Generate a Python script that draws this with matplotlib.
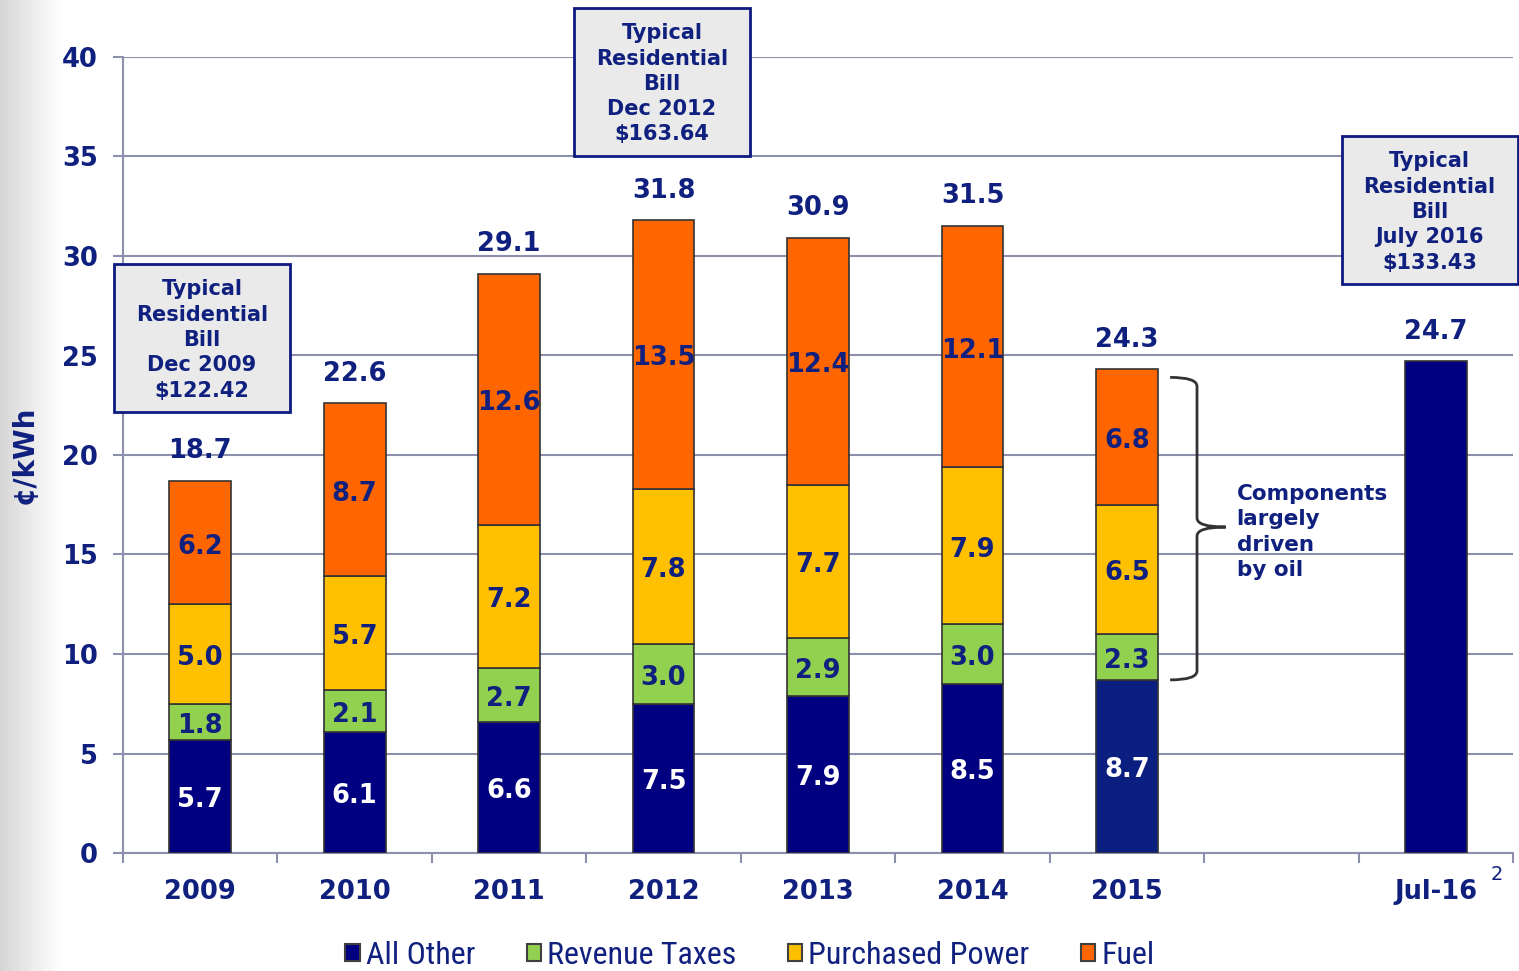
import numpy as np
import matplotlib
matplotlib.use("Agg")
import matplotlib.pyplot as plt
from matplotlib.patches import Rectangle, PathPatch
from matplotlib.path import Path
from matplotlib import font_manager

# ---------------- data ----------------
categories = ["2009", "2010", "2011", "2012", "2013", "2014", "2015", "Jul-16"]
cat_pos = [0, 1, 2, 3, 4, 5, 6, 8]
all_other = [5.7, 6.1, 6.6, 7.5, 7.9, 8.5, 8.7, 24.7]
revenue_taxes = [1.8, 2.1, 2.7, 3.0, 2.9, 3.0, 2.3, 0.0]
purchased_power = [5.0, 5.7, 7.2, 7.8, 7.7, 7.9, 6.5, 0.0]
fuel = [6.2, 8.7, 12.6, 13.5, 12.4, 12.1, 6.8, 0.0]
totals = [18.7, 22.6, 29.1, 31.8, 30.9, 31.5, 24.3, 24.7]
series_names = ["All Other", "Revenue Taxes", "Purchased Power", "Fuel"]
bill_texts = ["Typical\nResidential\nBill\nDec 2009\n$122.42",
              "Typical\nResidential\nBill\nDec 2012\n$163.64",
              "Typical\nResidential\nBill\nJuly 2016\n$133.43"]

# ---------------- style ----------------
plt.rcParams["font.family"] = "DejaVu Sans"
NAVY_TXT = "#10207F"
GRID = "#8C8FAE"
C_OTHER = "#000080"
C_TAX = "#92D050"
C_PP = "#FFC000"
C_FUEL = "#FF6600"
EDGE = "#333333"

# condensed font for legend if available
names = {f.name for f in font_manager.fontManager.ttflist}
legend_family = None
for cand in ["Liberation Sans Narrow", "Roboto Condensed", "Open Sans Condensed", "DejaVu Sans"]:
    if cand in names:
        legend_family = cand
        break
legend_stretch = "normal" if legend_family != "DejaVu Sans" else "condensed"

fig = plt.figure(figsize=(15.19, 9.71), dpi=100)
fig.patch.set_facecolor("white")

# left grey gradient
gax = fig.add_axes([0, 0, 60 / 1519, 1], zorder=-5)
grad = np.linspace(0, 1, 200)[None, :]
gax.imshow(grad, aspect="auto", cmap=matplotlib.colors.LinearSegmentedColormap.from_list(
    "g", ["#d6d6d6", "#ebebeb", "#ffffff"]), extent=[0, 1, 0, 1])
gax.axis("off")

ax = fig.add_axes([123 / 1519, 1 - 853 / 971, (1513 - 123) / 1519, (853 - 57) / 971])
ax.set_facecolor("none")

x = np.array(cat_pos, dtype=float)
w = 0.40
other_colors = [C_OTHER] * 6 + ["#0A1F80", C_OTHER]
ax.bar(x, all_other, w, color=other_colors, edgecolor=EDGE, linewidth=1.2, zorder=3)
b1 = np.array(all_other)
ax.bar(x[:7], revenue_taxes[:7], w, bottom=b1[:7], color=C_TAX, edgecolor=EDGE, linewidth=1.2, zorder=3)
b2 = b1 + np.array(revenue_taxes)
ax.bar(x[:7], purchased_power[:7], w, bottom=b2[:7], color=C_PP, edgecolor=EDGE, linewidth=1.2, zorder=3)
b3 = b2 + np.array(purchased_power)
ax.bar(x[:7], fuel[:7], w, bottom=b3[:7], color=C_FUEL, edgecolor=EDGE, linewidth=1.2, zorder=3)

lab_fs = 18.5
dy = 0.2
for i in range(7):
    ax.text(x[i], all_other[i] / 2 - dy, f"{all_other[i]:.1f}", ha="center", va="center",
            color="white", fontsize=lab_fs, fontweight="bold", zorder=5)
    ax.text(x[i], b1[i] + revenue_taxes[i] / 2 - dy, f"{revenue_taxes[i]:.1f}", ha="center", va="center",
            color=NAVY_TXT, fontsize=lab_fs, fontweight="bold", zorder=5)
    ax.text(x[i], b2[i] + purchased_power[i] / 2 - dy, f"{purchased_power[i]:.1f}", ha="center", va="center",
            color=NAVY_TXT, fontsize=lab_fs, fontweight="bold", zorder=5)
    ax.text(x[i], b3[i] + fuel[i] / 2 - dy, f"{fuel[i]:.1f}", ha="center", va="center",
            color=NAVY_TXT, fontsize=lab_fs, fontweight="bold", zorder=5)
for i in range(8):
    ax.annotate(f"{totals[i]:.1f}", (x[i], totals[i]), xytext=(0, 12), textcoords="offset points",
                ha="center", va="bottom", color=NAVY_TXT, fontsize=lab_fs, fontweight="bold", zorder=5)

# axes
ax.set_xlim(-0.5, 8.5)
ax.set_ylim(0, 40)
ax.set_yticks(np.arange(0, 41, 5))
ax.yaxis.grid(True, color=GRID, linewidth=1.5, zorder=0)
ax.set_axisbelow(True)
for s in ["top", "right"]:
    ax.spines[s].set_visible(False)
for s in ["left", "bottom"]:
    ax.spines[s].set_color(GRID)
    ax.spines[s].set_linewidth(1.5)
ax.tick_params(axis="y", colors=GRID, length=7, width=1.5, labelcolor=NAVY_TXT, labelsize=18.5, pad=11)
ax.set_xticks(x)
ax.set_xticklabels(categories)
ax.tick_params(axis="x", length=0, labelcolor=NAVY_TXT, labelsize=18.5, pad=19)
ax.set_xticks(np.arange(-0.5, 8.6, 1.0), minor=True)
ax.tick_params(axis="x", which="minor", length=7, width=1.5, color=GRID)
for t in ax.get_xticklabels() + ax.get_yticklabels():
    t.set_fontweight("bold")

# y label
fig.text(25 / 1519, 1 - 455 / 971, "¢/kWh", rotation=90, ha="center", va="center",
         color=NAVY_TXT, fontsize=20, fontweight="bold")

# superscript
fig.text(1497 / 1519, 1 - 874 / 971, "2", ha="center", va="center", color=NAVY_TXT, fontsize=14)

# bill boxes
boxes = [(-0.558, 22.16, 1.14, 7.44), (2.42, 35.03, 1.14, 7.44), (7.39, 28.59, 1.14, 7.44)]
for (bx, by, bw, bh), txt in zip(boxes, bill_texts):
    r = Rectangle((bx, by), bw, bh, facecolor="#EAEAEA", edgecolor="#0D1A80", linewidth=2,
                  clip_on=False, zorder=6)
    ax.add_patch(r)
    ax.text(bx + bw / 2, by + bh / 2 - 0.1, txt, ha="center", va="center", color=NAVY_TXT,
            fontsize=15, fontweight="bold", linespacing=1.33, zorder=7, clip_on=False)

# brace
xl, xm, xt = 6.28, 6.454, 6.64
yt, ymid, yb = 23.9, 16.38, 8.7
d = 0.45
verts = [(xl, yt), (xm, yt), (xm, yt - d), (xm, ymid + d), (xm, ymid), (xt, ymid),
         (xt, ymid), (xm, ymid), (xm, ymid - d), (xm, yb + d), (xm, yb), (xl, yb)]
codes = [Path.MOVETO, Path.CURVE3, Path.CURVE3, Path.LINETO, Path.CURVE3, Path.CURVE3,
         Path.MOVETO, Path.CURVE3, Path.CURVE3, Path.LINETO, Path.CURVE3, Path.CURVE3]
ax.add_patch(PathPatch(Path(verts, codes), facecolor="none", edgecolor="#333333", linewidth=2, zorder=5))
ax.text(6.71, 18.55, "Components\nlargely\ndriven\nby oil", ha="left", va="top", color=NAVY_TXT,
        fontsize=15.5, fontweight="bold", linespacing=1.34, zorder=5)

# legend
handles = [Rectangle((0, 0), 1, 1, facecolor=c, edgecolor="#404040", linewidth=1.5)
           for c in [C_OTHER, C_TAX, C_PP, C_FUEL]]
leg = fig.legend(handles, series_names, loc="center", bbox_to_anchor=(750 / 1519, 1 - 955 / 971),
                 ncol=4, frameon=False, handlelength=0.45, handleheight=0.45, handletextpad=0.2,
                 columnspacing=1.6, borderpad=0.1,
                 prop=font_manager.FontProperties(family=legend_family, stretch=legend_stretch, size=23))
for t in leg.get_texts():
    t.set_color(NAVY_TXT)

fig.savefig("out.png", dpi=100, facecolor="white")
